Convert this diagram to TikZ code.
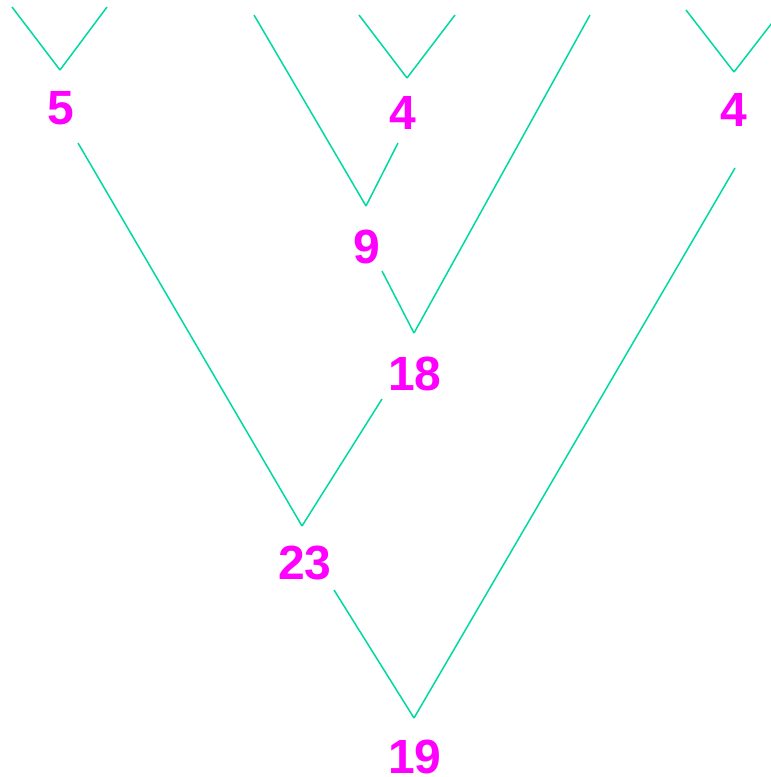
\documentclass[tikz,border=0pt]{standalone}
\usepackage{fontspec}
\setmainfont{Liberation Sans}
\usetikzlibrary{positioning}
\definecolor{treeEdge}{HTML}{00D9A0}
\definecolor{treeKey}{HTML}{FF00FF}

\begin{document}
\begin{tikzpicture}[x=1pt,y=-1pt,
      key/.style={text=treeKey,font=\fontsize{48}{48}\selectfont\bfseries,inner sep=0pt},
      edge/.style={draw=treeEdge,line width=1.5pt}]
    \useasboundingbox (0,0) rectangle (771,777);
    % keys
    \node[key] (k19) at (415,757) {19};
    \node[key] (k23) at (305,563) {23};
    \node[key] (k4r) at (734,110) {4};
    \node[key] (k5) at (61,108) {5};
    \node[key] (k18) at (415,374) {18};
    \node[key] (k9) at (367,247) {9};
    \node[key] (k4m) at (403,113) {4};
    % joints above each key
    \coordinate (j19) at (414,718);
    \coordinate (j23) at (302,526);
    \coordinate (j4r) at (734,72);
    \coordinate (j5) at (60,70);
    \coordinate (j18) at (414,333);
    \coordinate (j9) at (366,206);
    \coordinate (j4m) at (407,78);
    % tops of the edges under each key
    \coordinate (t23) at (334,590);
    \coordinate (t4r) at (735,168);
    \coordinate (t5) at (78,143);
    \coordinate (t18) at (382,399);
    \coordinate (t9) at (382,271);
    \coordinate (t4m) at (398,143);
    % empty children
    \coordinate (e1) at (12,7);
    \coordinate (e2) at (107,7);
    \coordinate (e3) at (254,15);
    \coordinate (e4) at (359,15);
    \coordinate (e5) at (455,15);
    \coordinate (e6) at (590,15);
    \coordinate (e7) at (686,10);
    \coordinate (e8) at (782,10);
    \foreach \a/\b in {j19/t23,j19/t4r,j23/t5,j23/t18,j18/t9,j18/e6,j9/e3,j9/t4m,
                       j5/e1,j5/e2,j4m/e4,j4m/e5,j4r/e7,j4r/e8}
      \draw[edge] (\a) -- (\b);
  \end{tikzpicture}
\end{document}
